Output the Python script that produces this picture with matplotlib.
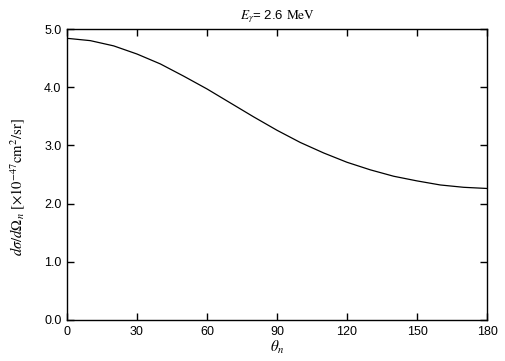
import matplotlib
matplotlib.use("Agg")
import matplotlib.pyplot as plt

theta = [0, 10, 20, 30, 40, 50, 60, 70, 80, 90, 100, 110, 120, 130, 140, 150, 160, 170, 180]
dsigma = [4.84, 4.80, 4.71, 4.57, 4.40, 4.19, 3.97, 3.73, 3.49, 3.26, 3.05, 2.87,
          2.71, 2.58, 2.47, 2.39, 2.32, 2.28, 2.26]
xticks = [0, 30, 60, 90, 120, 150, 180]
yticks = [0.0, 1.0, 2.0, 3.0, 4.0, 5.0]
ytick_labels = ["0.0", "1.0", "2.0", "3.0", "4.0", "5.0"]

plt.rcParams['font.family'] = ['Liberation Sans', 'DejaVu Sans']
plt.rcParams['mathtext.fontset'] = 'stix'

fig = plt.figure(figsize=(5.05, 3.61), dpi=100)
ax = fig.add_axes([67/505, 1 - 320/361, 420/505, (320-29)/361])
ax.plot(theta, dsigma, color='black', lw=0.9)
ax.set_xlim(0, 180)
ax.set_ylim(0, 5)
ax.set_xticks(xticks)
ax.set_yticks(yticks)
ax.set_yticklabels(ytick_labels)
ax.tick_params(direction='in', top=True, right=True, length=5, width=1, labelsize=9, pad=4)
for s in ax.spines.values():
    s.set_linewidth(1)
ax.set_title(r'$E_\gamma$= 2.6 $\mathrm{MeV}$', fontsize=9.5, pad=7)
ax.set_xlabel(r'$\theta_n$', fontsize=11, labelpad=1)
fig.text(18/505, 1 - 187/361,
         r'$d\sigma/d\Omega_n\ [\times10^{-47}\mathrm{cm}^2/\mathrm{sr}]$',
         fontsize=10.5, rotation=90, ha='center', va='center')
fig.savefig('out.png', dpi=100)
